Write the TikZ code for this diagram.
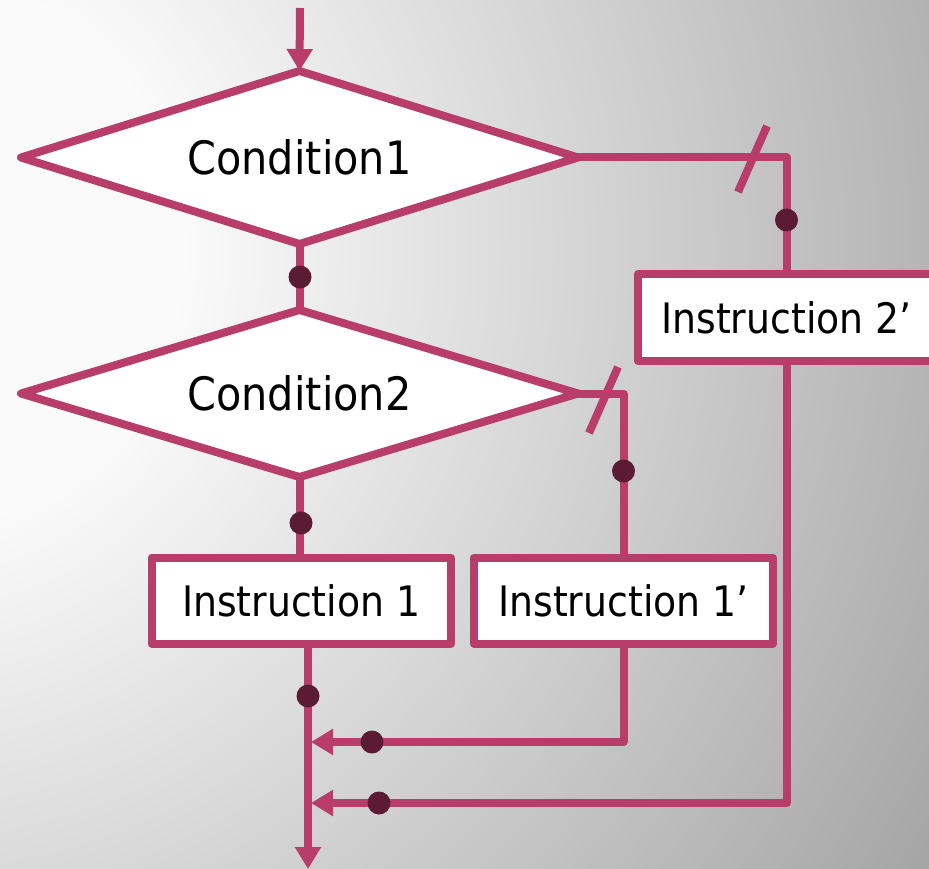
\documentclass[tikz,border=0pt]{standalone}
\usepackage{fontspec}
\setmainfont{DejaVu Sans Condensed}
\usetikzlibrary{arrows.meta,shapes.geometric}

\definecolor{flow}{RGB}{185,61,105}
\definecolor{knot}{RGB}{91,28,51}
\definecolor{bgIn}{RGB}{250,250,250}
\definecolor{bgOut}{RGB}{164,164,164}
% soft light spot on the upper left, fading to grey
\pgfdeclareradialshading{bgglow}{\pgfpointorigin}{color(0bp)=(bgIn); color(11.6bp)=(bgIn); color(50bp)=(bgOut)}

\begin{document}
\begin{tikzpicture}[x=1pt,y=-1pt,
  flowline/.style={draw=flow,line width=8pt,line join=round},
  decision/.style={diamond,draw=flow,fill=white,line width=8pt,line join=round,
    inner sep=0pt,outer sep=0pt,minimum width=557pt,aspect=3.3,
    font=\fontsize{46}{55}\selectfont},
  action/.style={rectangle,draw=flow,fill=white,line width=8pt,line join=round,
    inner sep=0pt,outer sep=0pt,minimum width=299.5pt,minimum height=86pt,
    font=\fontsize{42}{50}\selectfont},
  tip/.style={-{Triangle[length=22pt,width=25pt]}},
  knotdot/.style={circle,fill=knot,inner sep=0pt,minimum size=23pt},
  cut/.style={draw=flow,line width=8pt}]

% background
\useasboundingbox (0,0) rectangle (929,869);
\begin{scope}
  \clip (0,0) rectangle (929,869);
  \pgftransformshift{\pgfpoint{-100pt}{-250pt}}
  \pgftransformscale{24.1}
  \pgflowlevelsynccm
  \pgfuseshading{bgglow}
\end{scope}

% blocks
\node[decision,minimum height=173pt] (c1) at (299.5,157.5) {Condition1};
\node[decision,minimum height=167pt] (c2) at (299.5,393.5) {Condition2};
\node[action] (i1)  at (301.25,600.5) {Instruction 1};
\node[action] (i1p) at (623.5,600.5) {Instruction 1’};
\node[action,minimum width=297pt,minimum height=87pt] (i2) at (786.5,317.5) {Instruction 2’};

% free ends
\coordinate (entry) at (300,8);
\coordinate (trunk) at (308,869);
\coordinate (m1) at (311,742);
\coordinate (m2) at (311,803);

% connectors
\draw[flowline,tip] (entry) -- (c1.north);
\draw[flowline] (c1.south) -- (c2.north);
\draw[flowline] (c2.south) -- (c2.south |- i1.north);
\draw[flowline] (c1.east) -| (i2.north);
\draw[flowline] (c2.east) -| (i1p.north);
\draw[flowline,tip] (i1.south -| trunk) -- (trunk);
\draw[flowline,tip] (i1p.south) |- (m1);
\draw[flowline,tip] (i2.south) |- (m2);

% "no" branch marks
\draw[cut] (767,126) -- (738,192);
\draw[cut] (618,367) -- (589,433);

% junction dots
\node[knotdot] (d1) at (300,277) {};
\node[knotdot] (d2) at (301,523) {};
\node[knotdot] (d3) at (786.5,220) {};
\node[knotdot] (d4) at (623.5,471) {};
\node[knotdot] (d5) at (308,696) {};
\node[knotdot] (d6) at (372,742) {};
\node[knotdot] (d7) at (379,803) {};
\end{tikzpicture}
\end{document}
